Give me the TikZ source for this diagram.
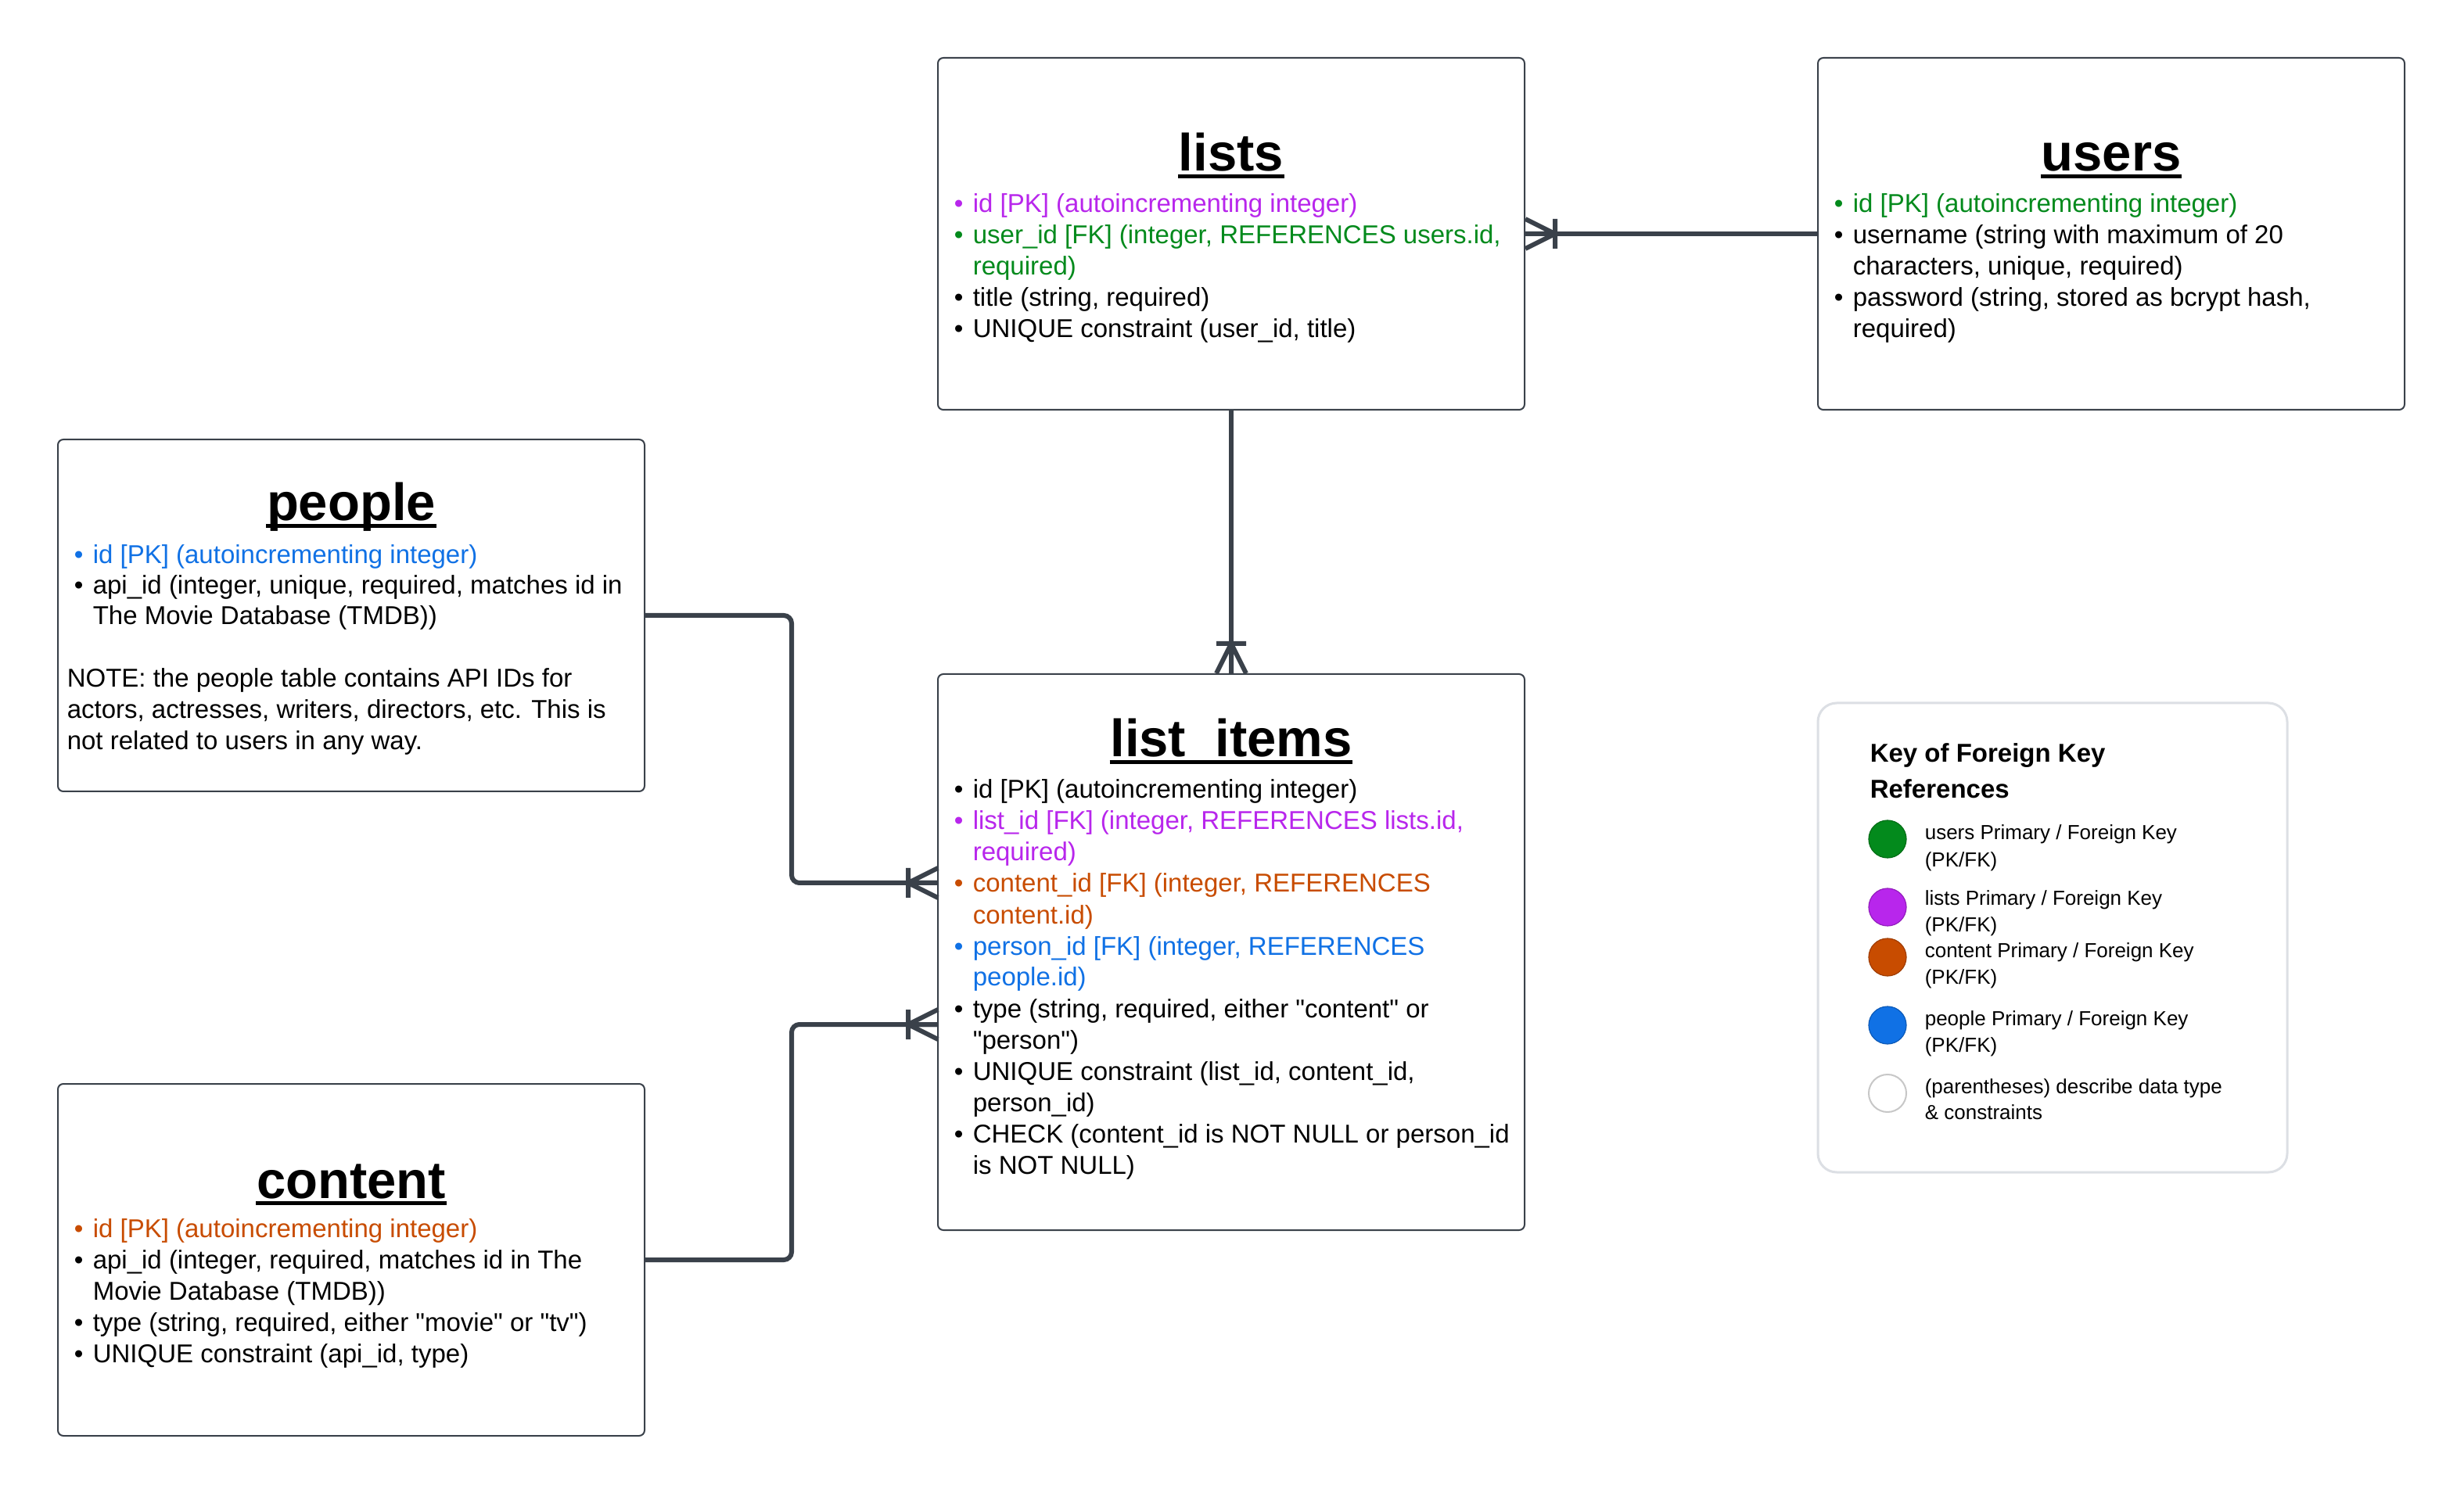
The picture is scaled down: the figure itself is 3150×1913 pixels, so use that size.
\documentclass[tikz,border=0pt]{standalone}
\usepackage{fontspec}
\setmainfont{Liberation Sans}
\newfontfamily\plainqf{Liberation Sans}
\usetikzlibrary{fit}
\definecolor{conncol}{HTML}{3A414A}
\definecolor{cpurple}{HTML}{B826EC}
\definecolor{cgreen}{HTML}{038A1C}
\definecolor{corange}{HTML}{C84C00}
\definecolor{cblue}{HTML}{1071E5}
\definecolor{keyborder}{HTML}{DCDFE4}
\newcommand\bodyf{\fontsize{8.25pt}{10pt}\selectfont}
\newcommand\titlef{\fontsize{16.75pt}{20pt}\selectfont\bfseries}
\newcommand\keyf{\fontsize{6.5pt}{8.5pt}\selectfont}
\newcommand\keytf{\fontsize{8.25pt}{11pt}\selectfont\bfseries}
\newcommand\bu{\makebox[6pt][l]{•}}
\newcommand\dq{{\plainqf"}}
\tikzset{
  tbl/.style={draw=conncol, line width=0.5pt, rounded corners=1.75pt, inner sep=0pt, fill=white},
  keybox/.style={draw=keyborder, line width=0.75pt, rounded corners=6pt, inner sep=0pt, fill=white},
  ln/.style={anchor=base west, inner sep=0pt, font=\bodyf},
  kln/.style={anchor=base west, inner sep=0pt, font=\keyf},
  ttl/.style={anchor=base, inner sep=0pt, font=\titlef},
  conn/.style={draw=conncol, line width=1.5pt},
  uline/.style={line width=1.4pt, draw=black},
  dot/.style={circle, minimum size=12pt, inner sep=0pt, line width=0.3pt},
  crow/.pic={\draw[conn] (0,19) -- (38,0) -- (0,-19) (0,0) -- (38,0) (38,19) -- (38,-19);}
}
\begin{document}
\begin{tikzpicture}[x=0.25pt,y=-0.25pt]
\path[fill=white] (0,0) rectangle (3150,1913);
\useasboundingbox (0,0) rectangle (3150,1913);

% ---------- boxes ----------
\node[tbl, fit={(1199,74) (1949,524)}] (lists) {};
\node[tbl, fit={(2324,74) (3074,524)}] (users) {};
\node[tbl, fit={(74,562) (824,1012)}] (people) {};
\node[tbl, fit={(1199,862) (1949,1573)}] (items) {};
\node[tbl, fit={(74,1386) (824,1836)}] (content) {};
\node[keybox, fit={(2324,899) (2924,1499)}] (key) {};

% ---------- titles ----------
\node[ttl] (tlists) at (1574,219) {lists};
\node[ttl] (tusers) at (2699,219) {users};
\node[ttl] (tpeople) at (449,666) {people};
\node[ttl] (titems) at (1574,968) {list\_items};
\node[ttl] (tcontent) at (449,1532) {content};
\foreach \t in {tlists,tusers,tpeople,titems,tcontent}
  \draw[uline] ([yshift=-1.65pt]\t.base west) -- ([yshift=-1.65pt]\t.base east);

% ---------- lists ----------
\node[ln,text=cpurple] (l1) at (1219,272) {\bu id [PK] (autoincrementing integer)};
\node[ln,text=cgreen] (l2) at (1219,312) {\bu user\_id [FK] (integer, REFERENCES users.id,};
\node[ln,text=cgreen] (l3) at (1243,352) {required)};
\node[ln] (l4) at (1219,392) {\bu title (string, required)};
\node[ln] (l5) at (1219,432) {\bu UNIQUE constraint (user\_id, title)};

% ---------- users ----------
\node[ln,text=cgreen] (u1) at (2344,272) {\bu id [PK] (autoincrementing integer)};
\node[ln] (u2) at (2344,312) {\bu username (string with maximum of 20};
\node[ln] (u3) at (2368,352) {characters, unique, required)};
\node[ln] (u4) at (2344,392) {\bu password (string, stored as bcrypt hash,};
\node[ln] (u5) at (2368,432) {required)};

% ---------- people ----------
\node[ln,text=cblue] (p1) at (94,721) {\bu id [PK] (autoincrementing integer)};
\node[ln] (p2) at (94,760) {\bu api\_id (integer, unique, required, matches id in};
\node[ln] (p3) at (118,799) {The Movie Database (TMDB))};
\node[ln] (p4) at (85,879) {NOTE: the people table contains API IDs for};
\node[ln] (p5) at (85,919) {actors, actresses, writers, directors, etc. This is};
\node[ln] (p6) at (85,959) {not related to users in any way.};

% ---------- list_items ----------
\node[ln] (i1) at (1219,1021) {\bu id [PK] (autoincrementing integer)};
\node[ln,text=cpurple] (i2) at (1219,1061) {\bu list\_id [FK] (integer, REFERENCES lists.id,};
\node[ln,text=cpurple] (i3) at (1243,1101) {required)};
\node[ln,text=corange] (i4) at (1219,1141) {\bu content\_id [FK] (integer, REFERENCES};
\node[ln,text=corange] (i5) at (1243,1181) {content.id)};
\node[ln,text=cblue] (i6) at (1219,1221) {\bu person\_id [FK] (integer, REFERENCES};
\node[ln,text=cblue] (i7) at (1243,1261) {people.id)};
\node[ln] (i8) at (1219,1301) {\bu type (string, required, either \dq content\dq{} or};
\node[ln] (i9) at (1243,1341) {\dq person\dq)};
\node[ln] (i10) at (1219,1381) {\bu UNIQUE constraint (list\_id, content\_id,};
\node[ln] (i11) at (1243,1421) {person\_id)};
\node[ln] (i12) at (1219,1461) {\bu CHECK (content\_id is NOT NULL or person\_id};
\node[ln] (i13) at (1243,1501) {is NOT NULL)};

% ---------- content ----------
\node[ln,text=corange] (c1) at (94,1582) {\bu id [PK] (autoincrementing integer)};
\node[ln] (c2) at (94,1622) {\bu api\_id (integer, required, matches id in The};
\node[ln] (c3) at (118,1662) {Movie Database (TMDB))};
\node[ln] (c4) at (94,1702) {\bu type (string, required, either \dq movie\dq{} or \dq tv\dq)};
\node[ln] (c5) at (94,1742) {\bu UNIQUE constraint (api\_id, type)};

% ---------- key ----------
\node[anchor=base west, inner sep=0pt, font=\keytf] (k0) at (2390,975) {Key of Foreign Key};
\node[anchor=base west, inner sep=0pt, font=\keytf] (k00) at (2390,1020) {References};
\node[dot, fill=cgreen, draw=cgreen!80!black] (d1) at (2413,1073) {};
\node[dot, fill=cpurple, draw=cpurple!80!black] (d2) at (2413,1160) {};
\node[dot, fill=corange, draw=corange!80!black] (d3) at (2413,1224) {};
\node[dot, fill=cblue, draw=cblue!80!black] (d4) at (2413,1311) {};
\node[dot, fill=white, draw=black!22, line width=0.5pt] (d5) at (2413,1398) {};
\node[kln] (k1) at (2460,1074) {users Primary / Foreign Key};
\node[kln] (k1b) at (2460,1108) {(PK/FK)};
\node[kln] (k2) at (2460,1158) {lists Primary / Foreign Key};
\node[kln] (k2b) at (2460,1192) {(PK/FK)};
\node[kln] (k3) at (2460,1224) {content Primary / Foreign Key};
\node[kln] (k3b) at (2460,1258) {(PK/FK)};
\node[kln] (k4) at (2460,1311) {people Primary / Foreign Key};
\node[kln] (k4b) at (2460,1345) {(PK/FK)};
\node[kln] (k5) at (2460,1398) {(parentheses) describe data type};
\node[kln] (k5b) at (2460,1431) {\& constraints};

% ---------- connectors ----------
\coordinate (pjoin) at (1199,1129);
\coordinate (cjoin) at (1199,1310);
\coordinate (pbend) at (1012,787);
\coordinate (cbend) at (1012,1611);
\draw[conn] (users.west) -- (lists.east);
\draw[conn] (lists.south) -- (items.north);
\draw[conn, rounded corners=2.5pt] (people.east) -- (pbend) |- (pjoin);
\draw[conn, rounded corners=2.5pt] (content.east) -- (cbend) |- (cjoin);
\path (lists.east) pic {crow};
\path (items.north) pic[rotate=90] {crow};
\path (pjoin) pic[rotate=180] {crow};
\path (cjoin) pic[rotate=180] {crow};
\end{tikzpicture}
\end{document}
